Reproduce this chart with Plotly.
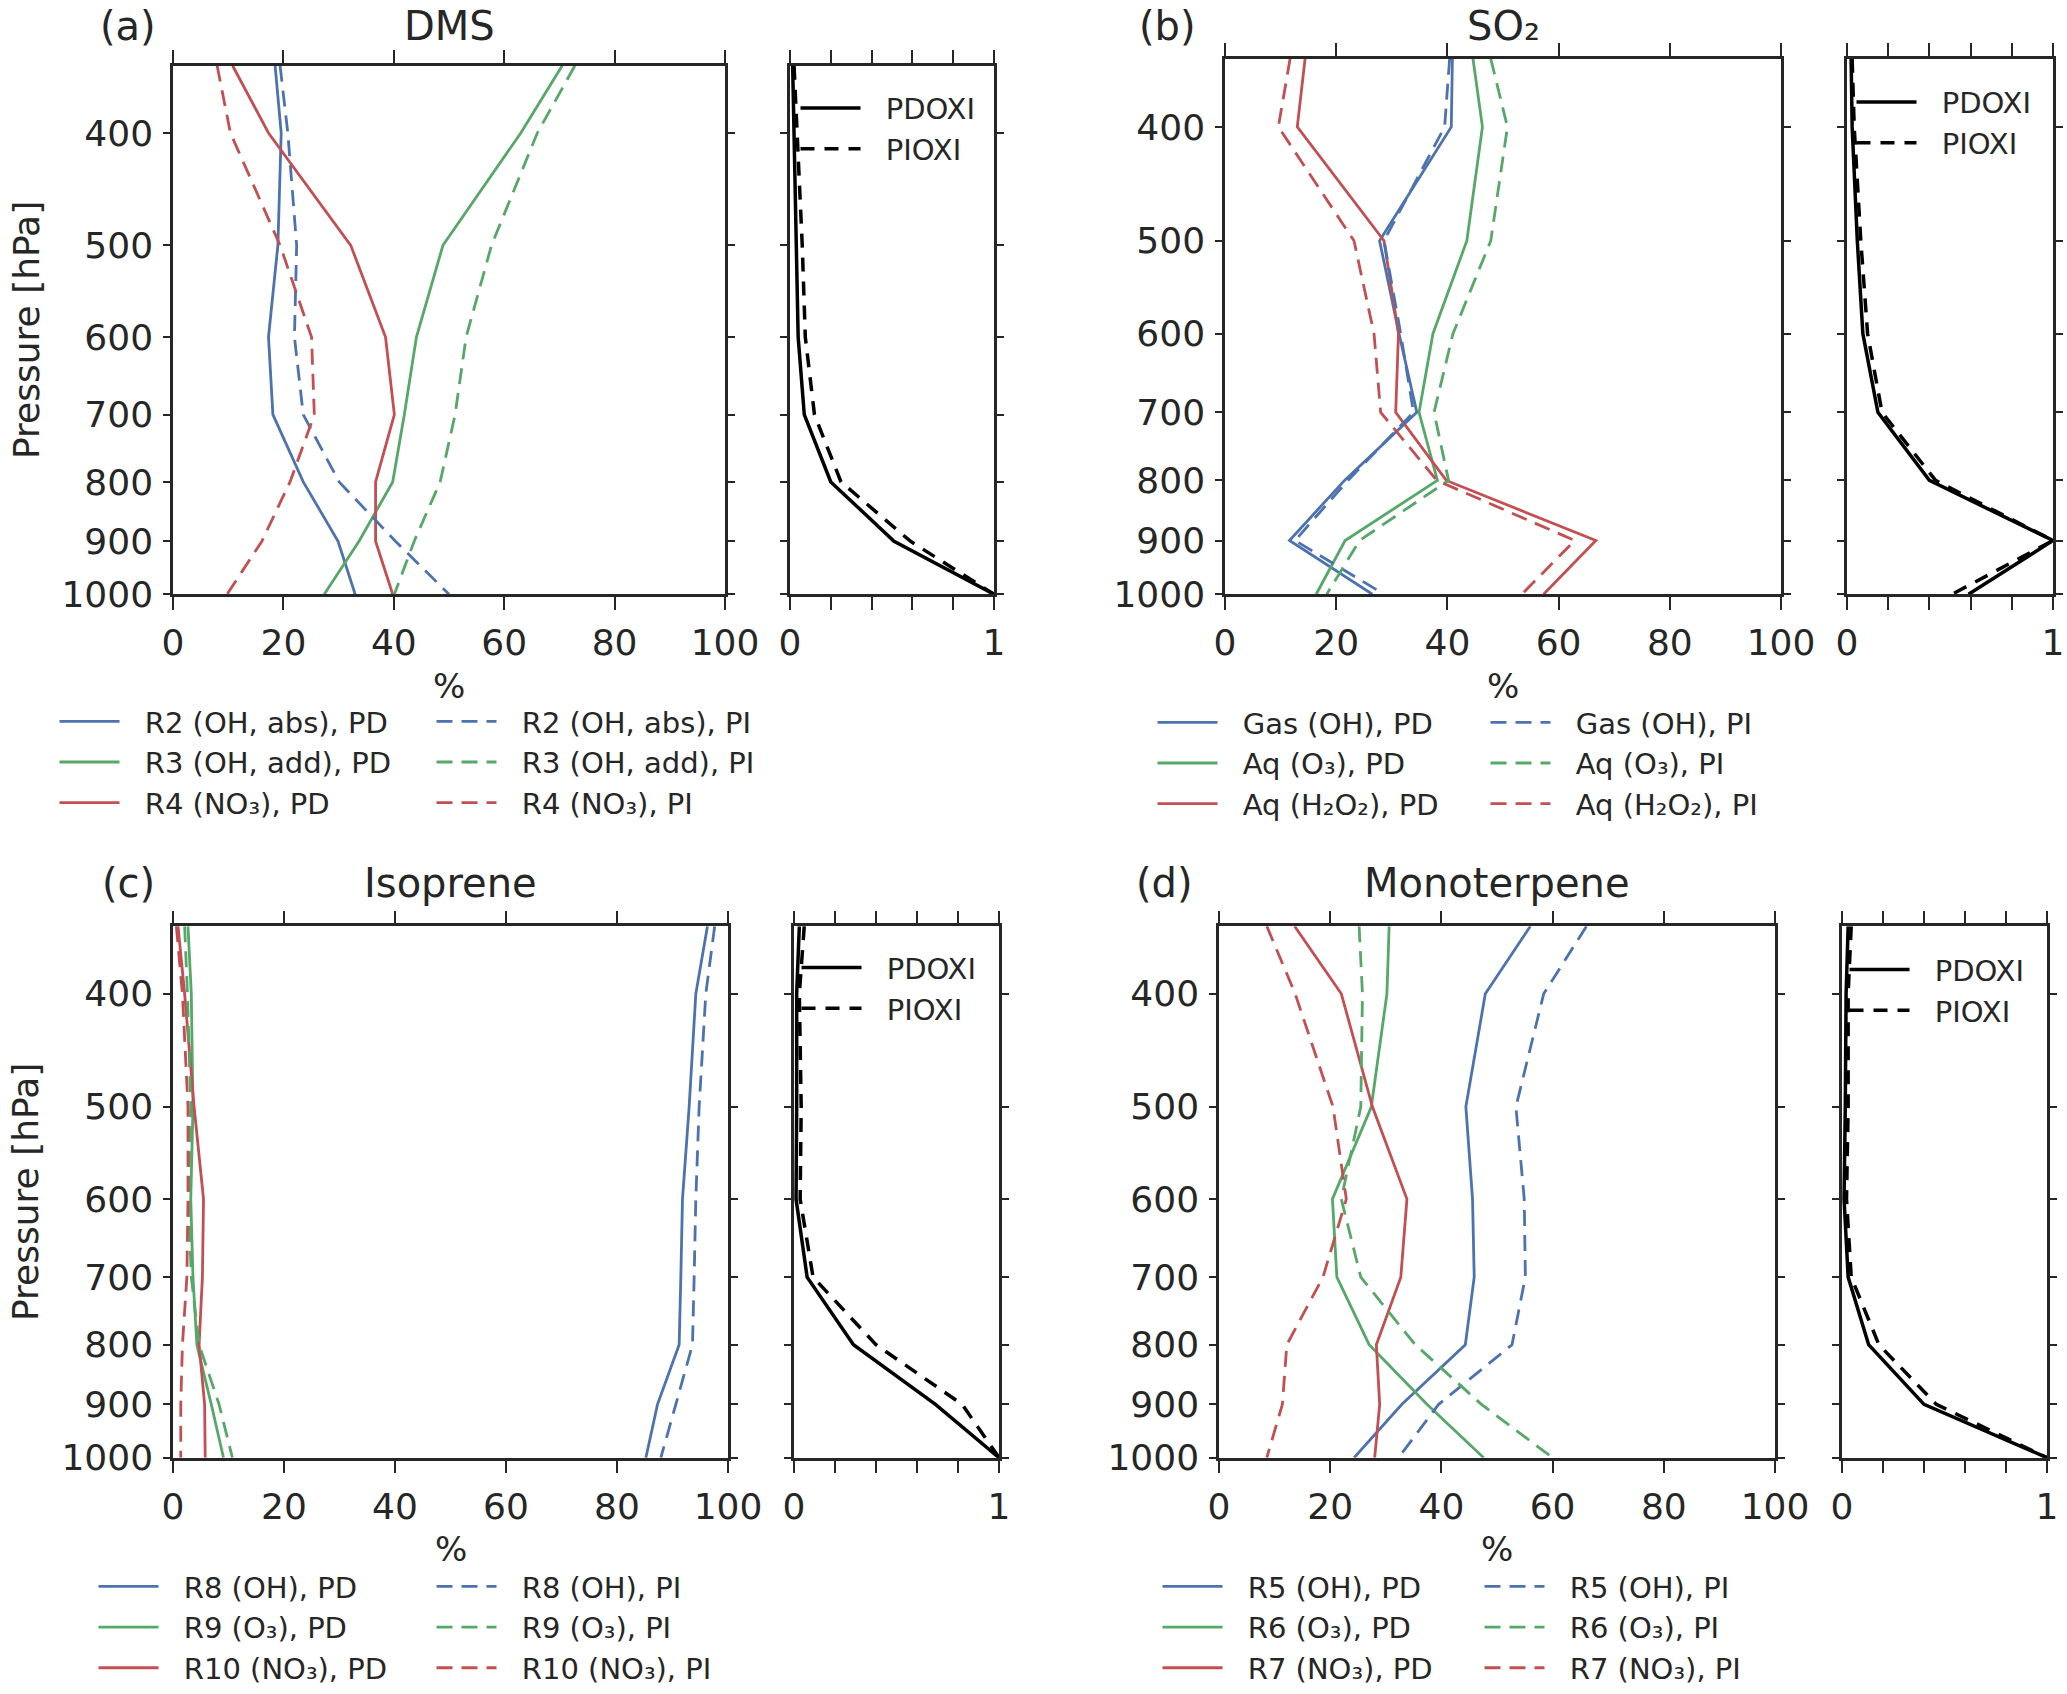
import plotly.graph_objects as go

W, H = 2067, 1694

# pressure levels [hPa]
levels = [350, 400, 500, 600, 700, 800, 900, 1000]
ptick_vals = [400, 500, 600, 700, 800, 900, 1000]
ptick_text = ['400', '500', '600', '700', '800', '900', '1000']
pct_ticks = [0, 20, 40, 60, 80, 100]
frac_ticks = [0, 1]
frac_minor = [0.2, 0.4, 0.6, 0.8]

# (a) DMS, share of loss per reaction [%]
dms_r2_pd = [18.5, 19.6, 19.0, 17.3, 18.1, 23.6, 29.9, 33.0]
dms_r2_pi = [19.4, 20.8, 22.4, 22.0, 23.6, 30.1, 40.3, 50.0]
dms_r3_pd = [70.5, 63.0, 48.9, 44.1, 41.9, 39.8, 33.7, 27.4]
dms_r3_pi = [72.8, 66.0, 57.7, 53.1, 51.1, 48.4, 43.7, 40.1]
dms_r4_pd = [10.8, 17.3, 32.2, 38.5, 40.1, 36.7, 36.7, 39.8]
dms_r4_pi = [8.0, 10.4, 19.4, 25.1, 25.6, 21.2, 16.1, 9.8]
dms_pdoxi = [0.013, 0.02, 0.03, 0.04, 0.07, 0.20, 0.51, 1.0]
dms_pioxi = [0.02, 0.035, 0.06, 0.075, 0.12, 0.25, 0.59, 1.0]

# (b) SO2
so2_gas_pd = [40.9, 40.7, 27.8, 31.3, 34.5, 21.5, 11.6, 26.5]
so2_gas_pi = [40.4, 39.5, 28.6, 31.6, 33.9, 22.1, 12.6, 28.6]
so2_o3_pd = [44.6, 46.3, 43.5, 37.4, 34.9, 38.2, 21.6, 16.4]
so2_o3_pi = [47.8, 50.8, 47.8, 41.0, 37.6, 40.2, 24.2, 18.3]
so2_h2o2_pd = [14.4, 13.0, 28.6, 31.2, 30.7, 39.8, 66.7, 57.3]
so2_h2o2_pi = [11.7, 9.6, 23.2, 26.8, 28.0, 38.1, 62.9, 53.4]
so2_pdoxi = [0.02, 0.025, 0.05, 0.077, 0.15, 0.40, 1.0, 0.59]
so2_pioxi = [0.025, 0.035, 0.067, 0.10, 0.17, 0.43, 1.0, 0.51]

# (c) isoprene
iso_r8_pd = [96.3, 94.2, 93.0, 91.8, 91.5, 91.2, 87.3, 85.2]
iso_r8_pi = [97.6, 96.0, 94.8, 94.2, 93.9, 93.6, 90.6, 87.9]
iso_r9_pd = [2.7, 3.3, 3.6, 3.2, 3.6, 4.3, 6.9, 9.1]
iso_r9_pi = [2.1, 2.6, 3.2, 2.8, 3.3, 4.7, 8.3, 10.7]
iso_r10_pd = [0.9, 2.1, 3.8, 5.5, 5.3, 4.7, 5.7, 5.8]
iso_r10_pi = [0.6, 1.7, 2.7, 2.7, 2.5, 1.7, 1.4, 1.4]
iso_pdoxi = [0.026, 0.013, 0.013, 0.01, 0.064, 0.29, 0.69, 1.0]
iso_pioxi = [0.05, 0.026, 0.035, 0.03, 0.093, 0.40, 0.82, 1.0]

# (d) monoterpene
mt_r5_pd = [56.0, 47.9, 44.4, 45.6, 45.9, 44.3, 32.9, 24.3]
mt_r5_pi = [66.1, 58.4, 53.4, 54.9, 55.1, 52.7, 39.5, 32.3]
mt_r6_pd = [30.6, 30.2, 27.4, 20.4, 21.2, 27.0, 37.4, 47.6]
mt_r6_pi = [25.2, 25.8, 25.5, 22.0, 25.5, 35.3, 47.2, 60.0]
mt_r7_pd = [13.6, 22.0, 27.6, 33.8, 32.7, 28.3, 28.9, 28.0]
mt_r7_pi = [8.6, 13.7, 20.5, 22.9, 18.7, 12.2, 11.4, 8.6]
mt_pdoxi = [0.03, 0.02, 0.016, 0.01, 0.03, 0.13, 0.40, 1.0]
mt_pioxi = [0.045, 0.03, 0.03, 0.022, 0.045, 0.18, 0.46, 1.0]

blue, green, red = '#4C72B0', '#55A868', '#C44E52'
ink = '#262626'
gap = '\u2002\u2009'  # space between legend sample line and its label

panels = [
    dict(tag='(a)', title='DMS',
         names=['R2 (OH, abs)', 'R3 (OH, add)', 'R4 (NO₃)'],
         pd=[dms_r2_pd, dms_r3_pd, dms_r4_pd], pi=[dms_r2_pi, dms_r3_pi, dms_r4_pi],
         oxi=[dms_pdoxi, dms_pioxi],
         main=(173, 725), small=(790, 994), top=66, bottom=596,
         tag_x=128, title_y=26, leg1=(62, 698), leg2=(439, 698), legs=(803, 83), ylab=True),
    dict(tag='(b)', title='SO₂',
         names=['Gas (OH)', 'Aq (O₃)', 'Aq (H₂O₂)'],
         pd=[so2_gas_pd, so2_o3_pd, so2_h2o2_pd], pi=[so2_gas_pi, so2_o3_pi, so2_h2o2_pi],
         oxi=[so2_pdoxi, so2_pioxi],
         main=(1225, 1781), small=(1847, 2053), top=59, bottom=596,
         tag_x=1167, title_y=26, leg1=(1160, 699), leg2=(1493, 699), legs=(1859, 77), ylab=False),
    dict(tag='(c)', title='Isoprene',
         names=['R8 (OH)', 'R9 (O₃)', 'R10 (NO₃)'],
         pd=[iso_r8_pd, iso_r9_pd, iso_r10_pd], pi=[iso_r8_pi, iso_r9_pi, iso_r10_pi],
         oxi=[iso_pdoxi, iso_pioxi],
         main=(173, 728), small=(794, 999), top=929, bottom=1462,
         tag_x=128, title_y=886, leg1=(101, 1566), leg2=(439, 1566), legs=(804, 945), ylab=True),
    dict(tag='(d)', title='Monoterpene',
         names=['R5 (OH)', 'R6 (O₃)', 'R7 (NO₃)'],
         pd=[mt_r5_pd, mt_r6_pd, mt_r7_pd], pi=[mt_r5_pi, mt_r6_pi, mt_r7_pi],
         oxi=[mt_pdoxi, mt_pioxi],
         main=(1219, 1775), small=(1842, 2047), top=929, bottom=1462,
         tag_x=1164, title_y=886, leg1=(1165, 1566), leg2=(1487, 1566), legs=(1852, 947), ylab=False),
]

yrange = [3.0, 2.5441]  # log10(1000) .. log10(350), pressure increasing downward

fig = go.Figure()
layout = dict(template='none', width=W, height=H, margin=dict(l=0, r=0, t=0, b=0),
              paper_bgcolor='white', plot_bgcolor='white',
              font=dict(family='DejaVu Sans', size=29, color=ink),
              annotations=[])


def fx(p):
    return p / W


def fy(p):
    return 1 - p / H


for i, p in enumerate(panels):
    km, ks = 2 * i + 1, 2 * i + 2
    ydom = [fy(p['bottom']), fy(p['top'])]
    lg1, lg2, lgs = 'legend%d' % (3 * i + 1), 'legend%d' % (3 * i + 2), 'legend%d' % (3 * i + 3)
    lg1 = 'legend' if lg1 == 'legend1' else lg1

    for name, col, xs in zip(p['names'], [blue, green, red], p['pd']):
        fig.add_trace(go.Scatter(x=xs, y=levels, mode='lines', name=gap + name + ', PD',
                                 line=dict(color=col, width=2.8),
                                 xaxis='x%d' % km, yaxis='y%d' % km, legend=lg1))
    for name, col, xs in zip(p['names'], [blue, green, red], p['pi']):
        fig.add_trace(go.Scatter(x=xs, y=levels, mode='lines', name=gap + name + ', PI',
                                 line=dict(color=col, width=2.8, dash='16px,9px'),
                                 xaxis='x%d' % km, yaxis='y%d' % km, legend=lg2))
    fig.add_trace(go.Scatter(x=p['oxi'][0], y=levels, mode='lines', name=gap + 'PDOXI',
                             line=dict(color='black', width=3.5),
                             xaxis='x%d' % ks, yaxis='y%d' % ks, legend=lgs))
    fig.add_trace(go.Scatter(x=p['oxi'][1], y=levels, mode='lines', name=gap + 'PIOXI',
                             line=dict(color='black', width=3.5, dash='14px,10px'),
                             xaxis='x%d' % ks, yaxis='y%d' % ks, legend=lgs))

    xcommon = dict(showline=True, linecolor=ink, linewidth=2.5, mirror='ticks',
                   ticks='outside', ticklen=13, tickwidth=2, tickcolor=ink,
                   showgrid=False, zeroline=False, tickfont=dict(size=36),
                   ticklabelstandoff=2, automargin=False)
    layout['xaxis%d' % km] = dict(xcommon, domain=[fx(p['main'][0]), fx(p['main'][1])],
                                  anchor='y%d' % km, range=[0, 100], tickvals=pct_ticks)
    layout['xaxis%d' % ks] = dict(xcommon, domain=[fx(p['small'][0]), fx(p['small'][1])],
                                  anchor='y%d' % ks, range=[0, 1], tickvals=frac_ticks,
                                  minor=dict(tickvals=frac_minor, ticks='outside', ticklen=13,
                                             tickwidth=2, tickcolor=ink, showgrid=False))
    ycommon = dict(type='log', range=yrange, domain=ydom, showline=True, linecolor=ink,
                   linewidth=2.5, mirror='ticks', ticks='outside', ticklen=7, tickwidth=1.5,
                   tickcolor=ink, showgrid=False, zeroline=False, tickvals=ptick_vals,
                   ticktext=ptick_text, tickfont=dict(size=36), ticklabelstandoff=3,
                   automargin=False)
    layout['yaxis%d' % km] = dict(ycommon, anchor='x%d' % km)
    layout['yaxis%d' % ks] = dict(ycommon, anchor='x%d' % ks, showticklabels=False)
    # longer major tick at 1000 hPa
    for k in (km, ks):
        layout['yaxis%d' % (8 + k)] = dict(type='log', range=yrange, overlaying='y%d' % k,
                                           anchor='x%d' % k, side='left', showline=False,
                                           mirror='ticks', ticks='outside', ticklen=13,
                                           tickwidth=2.5, tickcolor=ink, tickvals=[1000],
                                           showticklabels=False, showgrid=False,
                                           zeroline=False, automargin=False)

    legbase = dict(bgcolor='rgba(0,0,0,0)', borderwidth=0, font=dict(size=29),
                   xanchor='left', yanchor='top', itemwidth=60, tracegroupgap=0)
    layout[lg1] = dict(legbase, x=fx(p['leg1'][0] - 7.5), y=fy(p['leg1'][1]))
    layout[lg2] = dict(legbase, x=fx(p['leg2'][0] - 7.5), y=fy(p['leg2'][1]))
    layout[lgs] = dict(legbase, x=fx(p['legs'][0] - 7.5), y=fy(p['legs'][1]))

    cx = (p['main'][0] + p['main'][1]) / 2
    ann = dict(xref='paper', yref='paper', showarrow=False, xanchor='center', yanchor='middle')
    layout['annotations'] += [
        dict(ann, text=p['tag'], x=fx(p['tag_x']), y=fy(p['title_y']), font=dict(size=40)),
        dict(ann, text=p['title'], x=fx(cx), y=fy(p['title_y']), font=dict(size=40)),
        dict(ann, text='%', x=fx(cx), y=fy(p['bottom'] + 92), font=dict(size=34)),
    ]
    if p['ylab']:
        layout['annotations'].append(
            dict(ann, text='Pressure [hPa]', x=fx(26), y=fy((p['top'] + p['bottom']) / 2),
                 textangle=-90, font=dict(size=36)))

fig.update_layout(layout)
# the page's default body margin would push the fixed-size figure off by 8 px
fig.write_html('out.html', config={'displayModeBar': False},
               post_script="document.body.style.margin='0';")
